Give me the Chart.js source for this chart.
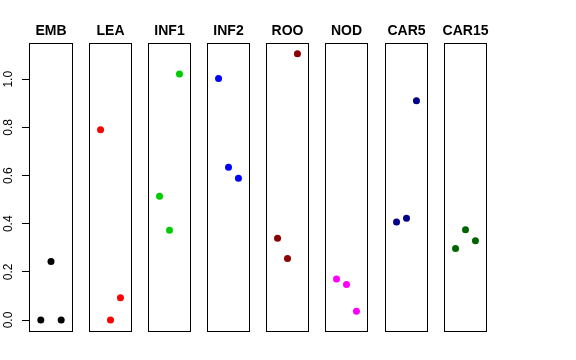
<!DOCTYPE html>
<html lang="en">
<head>
<meta charset="UTF-8">
<title>Panel strip chart</title>
<script src="https://cdn.jsdelivr.net/npm/chart.js@4.4.0/dist/chart.umd.min.js"></script>
<style>
    body { margin: 0; background: #fff; }
    #wrap { position: relative; width: 576px; height: 360px; }
    .panel { position: absolute; top: 0; }
</style>
</head>
<body>
<div id="wrap"></div>
<script>
// data
const groups = ['EMB', 'LEA', 'INF1', 'INF2', 'ROO', 'NOD', 'CAR5', 'CAR15'];
const colors = ['#000000', '#FF0000', '#00CD00', '#0000FF', '#8B0000', '#FF00FF', '#00008B', '#006400'];
const positions = [1, 2, 3];
const embValues = [0.0, 0.243, 0.0];
const leaValues = [0.790, 0.0, 0.092];
const inf1Values = [0.514, 0.373, 1.022];
const inf2Values = [1.003, 0.635, 0.589];
const rooValues = [0.340, 0.256, 1.106];
const nodValues = [0.170, 0.148, 0.036];
const car5Values = [0.407, 0.423, 0.911];
const car15Values = [0.297, 0.375, 0.329];
const yTicks = [0.0, 0.2, 0.4, 0.6, 0.8, 1.0];

const allValues = [embValues, leaValues, inf1Values, inf2Values, rooValues, nodValues, car5Values, car15Values];

// layout of the panels (pixels)
const panelLeft = [29, 88, 147, 206, 265, 324, 384, 443];
const panelWidth = 45;
const axisWidth = 29;
const pad = 3;
const font = 'Liberation Sans, Arial, Helvetica, sans-serif';

// box round the plot area + panel title centred over it
const framePlugin = {
    id: 'frame',
    afterDatasetsDraw(chart) {
        const a = chart.chartArea;
        const ctx = chart.ctx;
        ctx.save();
        ctx.strokeStyle = '#000';
        ctx.lineWidth = 1;
        ctx.strokeRect(Math.round(a.left) + 0.5, Math.round(a.top) + 0.5,
            Math.round(a.right - a.left) - 1, Math.round(a.bottom - a.top));
        ctx.fillStyle = '#000';
        ctx.font = 'bold 14px ' + font;
        ctx.textAlign = 'center';
        ctx.textBaseline = 'alphabetic';
        ctx.fillText(chart.options.plugins.frame.title, (a.left + a.right) / 2, 34.5);
        ctx.restore();
    }
};

const wrap = document.getElementById('wrap');

groups.forEach((name, i) => {
    const first = i === 0;
    const w = first ? axisWidth + panelWidth + pad : panelWidth + 2 * pad;
    const left = first ? 0 : panelLeft[i] - pad;

    const div = document.createElement('div');
    div.className = 'panel';
    div.style.left = left + 'px';
    const canvas = document.createElement('canvas');
    canvas.width = w;
    canvas.height = 360;
    canvas.style.width = w + 'px';
    canvas.style.height = '360px';
    div.appendChild(canvas);
    wrap.appendChild(div);

    new Chart(canvas, {
        type: 'scatter',
        data: {
            datasets: [{
                data: positions.map((x, k) => ({ x: x, y: allValues[i][k] })),
                backgroundColor: colors[i],
                borderWidth: 0,
                pointRadius: 3.5
            }]
        },
        options: {
            responsive: false,
            animation: false,
            events: [],
            layout: { padding: { left: first ? 0 : pad, right: pad, top: 43, bottom: 29 } },
            plugins: {
                legend: { display: false },
                tooltip: { enabled: false },
                title: { display: false },
                frame: { title: name }
            },
            scales: {
                x: { type: 'linear', min: -0.16, max: 4.16, display: false },
                y: {
                    type: 'linear',
                    min: -0.0456,
                    max: 1.1506,
                    display: first,
                    position: 'left',
                    afterBuildTicks: s => { s.ticks = yTicks.map(v => ({ value: v })); },
                    afterFit: s => { if (first) s.width = axisWidth; },
                    border: { display: false },
                    grid: { drawOnChartArea: false, tickLength: 7, color: '#000' },
                    ticks: {
                        minRotation: 90,
                        maxRotation: 90,
                        crossAlign: 'center',
                        padding: 5,
                        color: '#000',
                        font: { family: font, size: 12 },
                        callback: v => v.toFixed(1)
                    }
                }
            }
        },
        plugins: [framePlugin]
    });
});
</script>
</body>
</html>
